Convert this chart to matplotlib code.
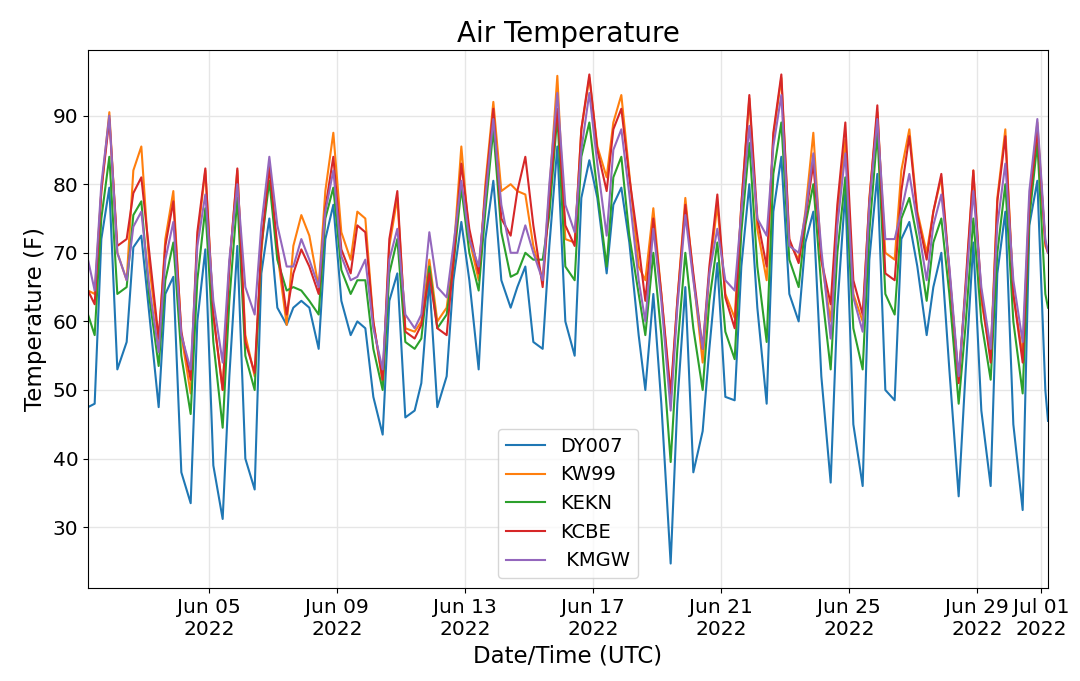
import matplotlib
matplotlib.use("Agg")
import matplotlib.pyplot as plt
import matplotlib.dates as mdates
import numpy as np
import datetime as dt

# Sampling times: hours after 2022-06-01 00:00 UTC
HOURS = [5] + [24 * d + h for d in range(30) for h in (3, 10, 15, 21) if not (d == 0 and h == 3)] + [723, 725]

DY007 = [47.5, 48, 72, 79.5,
         53, 57, 70.8, 72.5,
         61, 47.5, 64, 66.5,
         38, 33.5, 60, 70.5,
         39, 31.2, 52, 71,
         40, 35.5, 67, 75,
         62, 59.5, 62, 63,
         62, 56, 72, 77,
         63, 58, 60, 59,
         49, 43.5, 63, 67,
         46, 47, 51, 66,
         47.5, 52, 66, 74.5,
         66, 53, 72, 80.5,
         66, 62, 65, 68,
         57, 56, 71, 85.5,
         60, 55, 78, 83.5,
         78, 67, 77, 79.5,
         71.5, 58, 50, 64,
         48, 24.7, 48, 65,
         38, 44, 56, 68.5,
         49, 48.5, 68, 80,
         62, 48, 76, 84,
         64, 60, 71.5, 76,
         52, 36.5, 62, 79,
         45, 36, 69, 81.5,
         50, 48.5, 72, 74.5,
         68, 58, 65, 70,
         53, 34.5, 52, 71.5,
         47, 36, 67, 76,
         45, 32.5, 74, 80.5,
         50, 45.5]

KW99 = [64.5, 64, 79, 90.5,
        70, 66, 82, 85.5,
        68, 57, 72, 79,
        58, 49.5, 72, 82,
        61, 50, 68, 82,
        58, 52, 70, 83,
        70, 59.5, 71, 75.5,
        72.5, 65, 79, 87.5,
        73, 69, 76, 75,
        60, 51, 71, 78,
        59, 58.5, 60, 69,
        60, 62, 69.5, 85.5,
        72, 66, 80, 92,
        79, 80, 79, 78.5,
        71, 66, 79, 95.8,
        72, 71.5, 88, 95.5,
        85.5, 81, 89, 93,
        81.5, 68, 66, 76.5,
        64, 48.5, 63, 78,
        66.5, 54, 67, 77,
        64, 60.5, 77, 92.5,
        73.5, 66, 87, 95.5,
        71.5, 69, 76, 87.5,
        69, 60, 75, 86.5,
        64, 60, 78, 90.5,
        70, 69, 82, 88,
        76, 70, 76, 81,
        67, 51.5, 64, 82,
        63, 55, 78, 88,
        64, 55, 77.5, 89,
        71, 70]

KEKN = [61, 58, 75, 84,
        64, 65, 75.5, 77.5,
        63.5, 53.5, 66, 71.5,
        55, 46.5, 66, 76.5,
        57, 44.5, 63, 78,
        55, 50, 71, 80.5,
        69, 64.5, 65, 64.5,
        63, 61, 75, 79.5,
        67.5, 64, 66, 66,
        56, 50, 67, 72,
        57, 56, 57.5, 68,
        59, 61, 68, 79.5,
        70, 64.5, 76, 88,
        73, 66.5, 67, 70,
        69, 69, 75.5, 90,
        68, 66, 84, 89,
        79, 68, 81, 84,
        72.5, 64, 58, 70,
        58, 39.5, 56, 70,
        59, 50, 63, 71.5,
        58.5, 54.5, 73, 86,
        68, 57, 81.5, 89,
        69, 65, 74, 80,
        65, 53, 70, 81,
        59, 53, 73, 87.5,
        64, 61, 75, 78,
        72, 63, 71.5, 75,
        64, 48, 59, 75,
        60, 51.5, 70, 80,
        60, 49.5, 75, 86,
        64, 62]

KCBE = [64.5, 62.5, 79, 89.5,
        71, 72, 78.7, 81,
        70, 57.5, 71, 77.5,
        58.5, 51.5, 73, 82.3,
        61, 50, 68, 82.3,
        57, 52.5, 71, 82.5,
        71, 61, 67, 70.5,
        68, 64, 76.5, 84,
        70.5, 67, 74, 73,
        60, 51.5, 72, 79,
        58.5, 57.5, 59.5, 67,
        59, 58, 68.5, 83,
        73.5, 67, 79, 91,
        75, 72.5, 79, 84,
        74, 65, 78, 91,
        74, 71, 88, 96,
        85, 79, 88, 91,
        81, 71, 63, 75,
        64, 49.5, 63, 77,
        67, 56, 68, 78.5,
        63.5, 59, 77, 93,
        75, 68, 87.5, 96,
        72, 68.5, 75, 83,
        69, 62.5, 77, 89,
        66, 61, 77.5, 91.5,
        67, 66, 79, 87,
        75.5, 69, 76, 81.5,
        67.5, 51, 65, 82,
        64, 54, 77.5, 87,
        64, 54, 77, 88,
        71.5, 70]

KMGW = [69, 64.5, 80, 90,
        70, 66, 73.8, 76,
        65, 55.5, 69, 74.5,
        58, 53, 71, 78.5,
        63, 54, 69, 80,
        65, 61, 74, 84,
        74, 68, 68, 72,
        69, 65, 76, 82,
        69.5, 66, 66.5, 69,
        59, 53, 69, 73.5,
        61, 59, 61, 73,
        65, 63.5, 71, 80.5,
        72, 68, 78, 89.5,
        77, 70, 70, 74,
        70, 66, 80, 93.3,
        77, 73, 85, 93.3,
        83, 72.5, 85, 88,
        78.5, 66, 60, 73.5,
        63, 47, 62, 75.5,
        66, 56, 67, 73.5,
        66, 64.5, 76, 88.5,
        75, 72.5, 85.5, 93,
        71, 70, 75.5, 84.5,
        70.5, 57.5, 74, 84.5,
        63.5, 58.5, 77, 89.5,
        72, 72, 76, 81.5,
        74.5, 66, 74, 78.5,
        68, 52, 64, 79,
        65, 56, 74, 83,
        66, 57, 79, 89.5,
        72, 70]

SERIES = [("DY007", DY007), ("KW99", KW99), ("KEKN", KEKN), ("KCBE", KCBE), (" KMGW", KMGW)]

base = dt.datetime(2022, 6, 1, 0, 0)
times = [base + dt.timedelta(hours=h) for h in HOURS]

fig = plt.figure(figsize=(10.8, 6.81), dpi=100)
ax = fig.add_axes([88 / 1080, 1 - 588 / 681, 960 / 1080, 538 / 681])

for name, vals in SERIES:
    ax.plot(times, vals, lw=1.5, label=name)

ax.margins(x=0)
ax.xaxis.set_major_locator(mdates.DayLocator(bymonthday=range(1, 32, 4)))
ax.xaxis.set_major_formatter(mdates.DateFormatter("%b %d\n%Y"))
ax.grid(True, color="#e6e6e6", lw=1)
ax.set_axisbelow(True)
ax.tick_params(labelsize=14.5)
for lbl in ax.get_xticklabels():
    lbl.set_horizontalalignment("center")

ax.set_title("Air Temperature", fontsize=20)
ax.set_xlabel("Date/Time (UTC)", fontsize=16.5)
ax.set_ylabel("Temperature (F)", fontsize=16.5)
ax.legend(loc="lower center", fontsize=14)

fig.savefig("out.png", dpi=100)
